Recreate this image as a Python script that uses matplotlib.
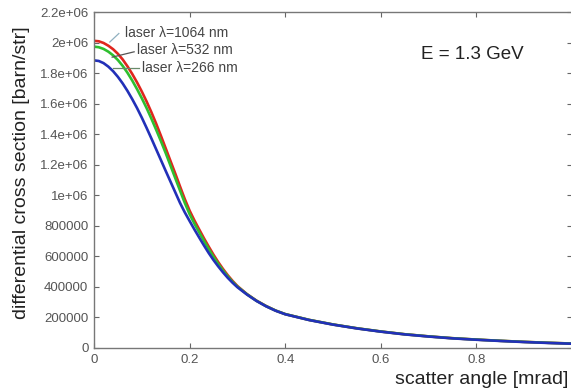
import numpy as np
import matplotlib
matplotlib.use("Agg")
import matplotlib.pyplot as plt

plt.rcParams['font.family'] = ['Liberation Sans', 'DejaVu Sans']

# scatter angle [mrad]
angle = [0.00, 0.01, 0.02, 0.03, 0.04, 0.05, 0.06, 0.07, 0.08, 0.09,
         0.10, 0.11, 0.12, 0.13, 0.14, 0.15, 0.16, 0.17, 0.18, 0.19,
         0.20, 0.21, 0.22, 0.23, 0.24, 0.25, 0.26, 0.27, 0.28, 0.29,
         0.30, 0.32, 0.34, 0.36, 0.38, 0.40, 0.45, 0.50, 0.55, 0.60,
         0.65, 0.70, 0.75, 0.80, 0.85, 0.90, 0.95, 1.00]

# differential cross section [1e6 barn/str]
xs_1064 = [2.012, 2.009, 1.998, 1.980, 1.957, 1.927, 1.890, 1.845, 1.795, 1.740,
           1.680, 1.615, 1.545, 1.470, 1.390, 1.308, 1.225, 1.143, 1.058, 0.975,
           0.900, 0.836, 0.777, 0.719, 0.664, 0.611, 0.562, 0.517, 0.476, 0.439,
           0.406, 0.353, 0.310, 0.275, 0.245, 0.222, 0.184, 0.154, 0.129, 0.108,
           0.090, 0.076, 0.064, 0.055, 0.047, 0.040, 0.034, 0.029]
xs_532 = [1.974, 1.970, 1.959, 1.941, 1.917, 1.886, 1.848, 1.803, 1.752, 1.696,
          1.636, 1.572, 1.503, 1.430, 1.355, 1.277, 1.195, 1.113, 1.031, 0.950,
          0.877, 0.815, 0.758, 0.702, 0.648, 0.597, 0.550, 0.507, 0.468, 0.433,
          0.402, 0.352, 0.309, 0.274, 0.245, 0.222, 0.184, 0.154, 0.129, 0.108,
          0.090, 0.076, 0.064, 0.055, 0.047, 0.040, 0.034, 0.029]
xs_266 = [1.884, 1.880, 1.866, 1.843, 1.813, 1.776, 1.733, 1.684, 1.630, 1.572,
          1.509, 1.442, 1.373, 1.302, 1.231, 1.160, 1.090, 1.020, 0.950, 0.888,
          0.832, 0.777, 0.724, 0.672, 0.622, 0.576, 0.534, 0.495, 0.459, 0.427,
          0.398, 0.350, 0.308, 0.273, 0.244, 0.221, 0.183, 0.153, 0.128, 0.107,
          0.089, 0.075, 0.063, 0.054, 0.046, 0.039, 0.033, 0.028]

series = [
    ("laser \u03bb=1064 nm", xs_1064, "#e0261e"),
    ("laser \u03bb=532 nm", xs_532, "#2fbf2f"),
    ("laser \u03bb=266 nm", xs_266, "#2230b8"),
]

# label text position and leader line (start on curve -> end at text)
label_pos = [
    ((0.065, 2.063e6), (0.033, 2.004e6), (0.052, 2.060e6), "#8fb0c0"),
    ((0.090, 1.951e6), (0.038, 1.905e6), (0.084, 1.940e6), "#555555"),
    ((0.100, 1.833e6), (0.040, 1.833e6), (0.094, 1.833e6), "#6a8a6a"),
]

ytick_vals = [0, 2e5, 4e5, 6e5, 8e5, 1e6, 1.2e6, 1.4e6, 1.6e6, 1.8e6, 2e6, 2.2e6]
ytick_text = ["0", "200000", "400000", "600000", "800000", "1e+06", "1.2e+06",
              "1.4e+06", "1.6e+06", "1.8e+06", "2e+06", "2.2e+06"]
xtick_vals = [0, 0.2, 0.4, 0.6, 0.8, 1.0]
xtick_text = ["0", "0.2", "0.4", "0.6", "0.8", ""]

fig = plt.figure(figsize=(5.71, 3.91), dpi=100)
ax = fig.add_axes([0.1646, 0.110, 0.8372, 0.859])

for name, vals, col in series:
    ax.plot(angle, np.array(vals) * 1e6, color=col, lw=1.9, solid_capstyle='round')

for (name, vals, col), (txt, start, end, lcol) in zip(series, label_pos):
    ax.plot([start[0], end[0]], [start[1], end[1]], color=lcol, lw=0.9)
    ax.text(txt[0], txt[1], name, fontsize=10, color="#444444",
            ha='left', va='center')

ax.text(0.685, 1.92e6, "E = 1.3 GeV", fontsize=13.5, color="#222222",
        ha='left', va='center')

ax.set_xlim(0, 1)
ax.set_ylim(0, 2.2e6)
ax.set_xticks(xtick_vals)
ax.set_xticklabels(xtick_text)
ax.set_yticks(ytick_vals)
ax.set_yticklabels(ytick_text)
ax.tick_params(direction='in', length=3.5, width=0.8, color="#666666",
               labelcolor="#555555", labelsize=9.5, top=True, right=True, pad=4)
for s in ax.spines.values():
    s.set_color("#777777")
    s.set_linewidth(1.0)

fig.text(22 / 571, 0.559, "differential cross section [barn/str]", rotation=90,
         ha='center', va='center', fontsize=14, color="#222222")
fig.text(0.996, 0.029, "scatter angle [mrad]", ha='right', va='center',
         fontsize=14, color="#222222")

fig.savefig("out.png", dpi=100)
